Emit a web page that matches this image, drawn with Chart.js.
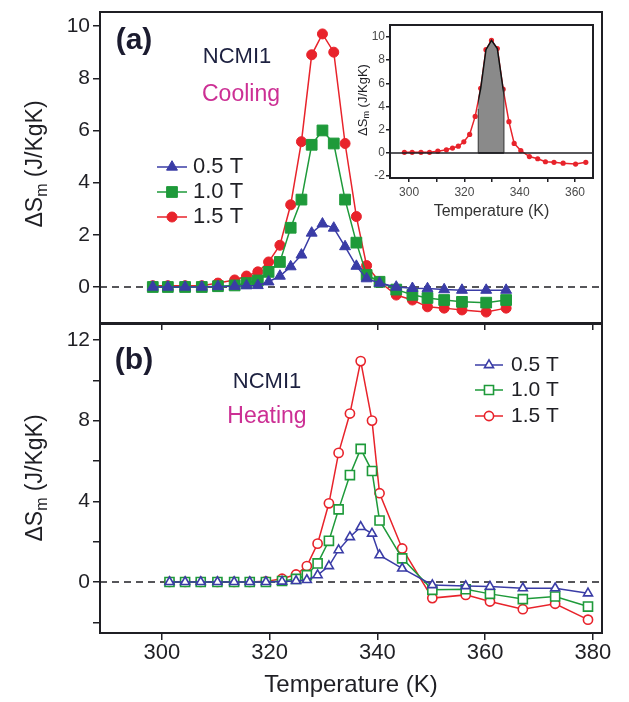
<!DOCTYPE html>
<html lang="en">
<head>
  <meta charset="UTF-8">
  <title>NCMI1 - ΔSm cooling / heating</title>
  <script src="https://cdn.jsdelivr.net/npm/chart.js"></script>
  <style>
    html, body { margin: 0; padding: 0; background: #fff; }
    #wrap { position: relative; width: 629px; height: 702px; overflow: hidden; }
    canvas { position: absolute; }
    #chartA { left: 0; top: 0; }
    #chartB { left: 0; top: 316px; }
    #inset { left: 350px; top: 15px; }
  </style>
</head>
<body>
<div id="wrap">
  <canvas id="chartA" width="629" height="332"></canvas>
  <canvas id="chartB" width="629" height="386"></canvas>
  <canvas id="inset" width="255" height="210"></canvas>
</div>
<script>
  // --- data ---
  const fieldLabels = ['0.5 T', '1.0 T', '1.5 T'];

  // (a) cooling
  const coolT = [298.3, 301.1, 304.3, 307.4, 310.4, 313.5, 315.7, 317.8, 319.8, 321.9, 323.9, 325.9, 327.8,
                 329.8, 331.9, 334.0, 336.1, 338.0, 340.4, 343.5, 346.5, 349.3, 352.4, 355.7, 360.2, 363.9];
  const cool05 = [0, 0, 0, 0, 0.02, 0.03, 0.05, 0.06, 0.2, 0.42, 0.78, 1.23, 2.07,
                  2.42, 2.26, 1.55, 0.8, 0.32, 0.15, 0.0, -0.05, -0.06, -0.1, -0.12, -0.12, -0.12];
  const cool10 = [0, 0, 0, 0, 0.03, 0.06, 0.15, 0.25, 0.58, 0.96, 2.27, 3.35, 5.45,
                  6.0, 5.5, 3.35, 1.7, 0.46, 0.2, -0.1, -0.3, -0.42, -0.5, -0.57, -0.6, -0.5];
  const cool15 = [0.05, 0.05, 0.05, 0.05, 0.15, 0.27, 0.42, 0.58, 0.96, 1.6, 3.15, 5.57, 8.9,
                  9.7, 9.0, 5.5, 2.7, 0.82, 0.2, -0.31, -0.5, -0.76, -0.81, -0.88, -0.96, -0.81];

  // (b) heating
  const heatT = [301.4, 304.3, 307.2, 310.3, 313.4, 316.3, 319.3, 322.3, 324.9, 326.9, 328.9, 331.0,
                 332.8, 334.9, 336.9, 339.0, 340.4, 344.6, 350.2, 356.4, 360.9, 367.0, 373.0, 379.1];
  const heat05 = [0, 0, 0, 0, 0, 0, 0, 0.02, 0.05, 0.1, 0.34, 0.79,
                  1.58, 2.23, 2.73, 2.4, 1.33, 0.67, -0.15, -0.2, -0.23, -0.31, -0.31, -0.56];
  const heat10 = [0, 0, 0, 0, 0, 0, 0, 0.05, 0.15, 0.34, 0.92, 2.04,
                  3.6, 5.3, 6.6, 5.5, 3.05, 1.17, -0.39, -0.36, -0.59, -0.85, -0.72, -1.22];
  const heat15 = [0, 0, 0, 0, 0, 0, 0.03, 0.16, 0.37, 0.79, 1.9, 3.9,
                  6.4, 8.35, 10.95, 8.0, 4.4, 1.66, -0.8, -0.64, -0.97, -1.35, -1.08, -1.87];

  // ticks
  const xTicks = [300, 320, 340, 360, 380];
  const yTicksA = [0, 2, 4, 6, 8, 10];
  const yTicksB = [-2, 0, 2, 4, 6, 8, 10, 12];
  const yLabelsB = [0, 4, 8, 12];
  const insetXTicks = [300, 310, 320, 330, 340, 350, 360];
  const insetXLabels = [300, 320, 340, 360];
  const insetYTicks = [-2, 0, 2, 4, 6, 8, 10];
  const shadeFrom = 325.0, shadeTo = 334.3;

  // --- styling ---
  const family = '"Liberation Sans", Arial, Helvetica, sans-serif';
  const ink = '#1f1f24';
  const blue = '#3a3ca6', green = '#1e9a3a', red = '#e8232b';
  Chart.defaults.font.family = family;
  Chart.defaults.color = ink;
  Chart.defaults.animation = false;

  const series = (xs, ys) => xs.map((x, i) => ({ x: x, y: ys[i] }));
  const setTicks = list => s => { s.ticks = list.map(v => ({ value: v })); };

  function line(label, data, color, style, radius, open) {
    return {
      label: label, data: data, showLine: true,
      borderColor: color, backgroundColor: color, borderWidth: 1.5,
      pointStyle: style, pointRadius: radius, pointHoverRadius: radius,
      pointBackgroundColor: open ? '#fff' : color, pointBorderColor: color,
      pointBorderWidth: open ? 1.6 : 1
    };
  }

  function drawYTitle(ctx, t) {
    const main = t.size + 'px ' + family;
    const sub = Math.round(t.size * 0.68) + 'px ' + family;
    ctx.save();
    ctx.translate(t.x, t.y);
    ctx.rotate(-Math.PI / 2);
    ctx.fillStyle = ink;
    ctx.textBaseline = 'middle';
    ctx.textAlign = 'left';
    ctx.font = main;
    const w1 = ctx.measureText('ΔS').width, w3 = ctx.measureText(' (J/KgK)').width;
    ctx.font = sub;
    const w2 = ctx.measureText('m').width;
    let x = -(w1 + w2 + w3) / 2;
    ctx.font = main; ctx.fillText('ΔS', x, 0); x += w1;
    ctx.font = sub; ctx.fillText('m', x, t.size * 0.3); x += w2;
    ctx.font = main; ctx.fillText(' (J/KgK)', x, 0);
    ctx.restore();
  }

  function drawLegend(chart, lg) {
    const ctx = chart.ctx;
    chart.data.datasets.forEach((ds, i) => {
      const y = lg.ys[i];
      ctx.save();
      ctx.strokeStyle = ds.borderColor;
      ctx.lineWidth = ds.borderWidth;
      ctx.beginPath(); ctx.moveTo(lg.x1, y); ctx.lineTo(lg.x2, y); ctx.stroke();
      ctx.fillStyle = ds.pointBackgroundColor;
      ctx.strokeStyle = ds.pointBorderColor;
      ctx.lineWidth = ds.pointBorderWidth;
      Chart.helpers.drawPoint(ctx, { pointStyle: ds.pointStyle, radius: ds.pointRadius,
        borderWidth: ds.pointBorderWidth, rotation: 0 }, (lg.x1 + lg.x2) / 2, y);
      ctx.fillStyle = ink;
      ctx.font = lg.size + 'px ' + family;
      ctx.textAlign = 'left';
      ctx.textBaseline = 'middle';
      ctx.fillText(ds.label, lg.tx, y);
      ctx.restore();
    });
  }

  // frame, zero line, notes, legend, y title
  const decor = {
    id: 'decor',
    beforeDatasetsDraw(chart, args, o) {
      if (o.zeroOnTop) return;
      zeroLine(chart, o);
    },
    afterDatasetsDraw(chart, args, o) {
      if (o.zeroOnTop) zeroLine(chart, o);
    },
    afterDraw(chart, args, o) {
      const { ctx, chartArea: a } = chart;
      ctx.save();
      ctx.strokeStyle = ink;
      ctx.lineWidth = o.frameWidth || 2;
      ctx.strokeRect(a.left, a.top, a.right - a.left, a.bottom - a.top);
      ctx.restore();
      (o.texts || []).forEach(t => {
        ctx.save();
        ctx.font = t.font; ctx.fillStyle = t.color;
        ctx.textAlign = 'center'; ctx.textBaseline = 'middle';
        ctx.fillText(t.text, t.x, t.y);
        ctx.restore();
      });
      if (o.yTitle) drawYTitle(ctx, o.yTitle);
      if (o.legend) drawLegend(chart, o.legend);
    }
  };
  function zeroLine(chart, o) {
    const { ctx, chartArea: a, scales: { y } } = chart;
    const y0 = y.getPixelForValue(0);
    ctx.save();
    ctx.strokeStyle = ink;
    ctx.lineWidth = 1.5;
    ctx.setLineDash(o.dash || []);
    ctx.beginPath(); ctx.moveTo(a.left, y0); ctx.lineTo(a.right, y0); ctx.stroke();
    ctx.restore();
  }

  // fixed box sizes, no extra room for the edge labels
  const fixWidth = w => s => { s.width = w; s.paddingTop = 0; s.paddingBottom = 0; };
  const fixHeight = h => s => { s.height = h; s.paddingLeft = 0; s.paddingRight = 0; };

  function yAxis(min, max, ticks, labels, size, width) {
    return {
      min: min, max: max,
      afterBuildTicks: setTicks(ticks),
      ticks: { font: { size: size }, color: ink, padding: 3,
               callback: v => (labels ? (labels.includes(v) ? v : '') : v) },
      grid: { drawOnChartArea: false, tickLength: 7, color: ink, lineWidth: 1.5 },
      border: { display: true, color: ink, width: 2 },
      afterFit: fixWidth(width)
    };
  }

  const text = (t, x, y, size, color, bold) =>
    ({ text: t, x: x, y: y, color: color, font: (bold ? 'bold ' : '') + size + 'px ' + family });

  // (a) cooling
  new Chart(document.getElementById('chartA'), {
    type: 'scatter',
    data: { datasets: [
      line(fieldLabels[0], series(coolT, cool05), blue, 'triangle', 6.3, false),
      line(fieldLabels[1], series(coolT, cool10), green, 'rect', 7.6, false),
      line(fieldLabels[2], series(coolT, cool15), red, 'circle', 5, false)
    ] },
    options: {
      responsive: false, events: [],
      layout: { padding: { top: 12, right: 27, left: 0, bottom: 0 } },
      scales: {
        x: {
          type: 'linear', min: 288.5, max: 381.7,
          afterBuildTicks: setTicks(xTicks),
          ticks: { display: false },
          grid: { drawOnChartArea: false, tickLength: 7, color: ink, lineWidth: 1.5 },
          border: { display: true, color: ink, width: 2 },
          afterFit: fixHeight(9)
        },
        y: yAxis(-1.38, 10.54, yTicksA, null, 21, 100)
      },
      plugins: {
        legend: { display: false }, tooltip: { enabled: false },
        decor: {
          dash: [7, 5],
          texts: [
            text('(a)', 134, 41, 30, '#1b1b2f', true),
            text('NCMI1', 237, 57, 22, '#1d2140'),
            text('Cooling', 241, 95, 23, '#cc2f94')
          ],
          yTitle: { x: 36, y: 164, size: 23 },
          legend: { x1: 157, x2: 187, tx: 193, ys: [167, 192, 217], size: 22 }
        }
      }
    },
    plugins: [decor]
  });

  // (b) heating  (canvas starts 316px down)
  new Chart(document.getElementById('chartB'), {
    type: 'scatter',
    data: { datasets: [
      line(fieldLabels[0], series(heatT, heat05), blue, 'triangle', 5.2, true),
      line(fieldLabels[1], series(heatT, heat10), green, 'rect', 6.4, true),
      line(fieldLabels[2], series(heatT, heat15), red, 'circle', 4.6, true)
    ] },
    options: {
      responsive: false, events: [],
      layout: { padding: { top: 8, right: 27, left: 0, bottom: 0 } },
      scales: {
        x: {
          type: 'linear', min: 288.5, max: 381.7,
          afterBuildTicks: setTicks(xTicks),
          ticks: { font: { size: 22 }, color: ink, padding: 0 },
          grid: { drawOnChartArea: false, tickLength: 7, color: ink, lineWidth: 1.5 },
          border: { display: true, color: ink, width: 2 },
          title: { display: true, text: 'Temperature (K)', color: ink,
                   font: { size: 24 }, padding: { top: 0, bottom: 2 } },
          afterFit: fixHeight(69)
        },
        y: yAxis(-2.53, 12.79, yTicksB, yLabelsB, 21, 100)
      },
      plugins: {
        legend: { display: false }, tooltip: { enabled: false },
        decor: {
          dash: [7, 5],
          texts: [
            text('(b)', 134, 45, 30, '#1b1b2f', true),
            text('NCMI1', 267, 66, 22, '#1d2140'),
            text('Heating', 267, 101, 23, '#cc2f94')
          ],
          yTitle: { x: 36, y: 162, size: 23 },
          legend: { x1: 475, x2: 503, tx: 511, ys: [49, 74, 100], size: 21 }
        }
      }
    },
    plugins: [decor]
  });

  // inset: 1.5 T cooling with the shaded peak area
  const shade = {
    id: 'shade',
    afterDatasetsDraw(chart) {
      const { ctx, chartArea: a, scales: { x, y } } = chart;
      const pts = chart.getDatasetMeta(0).data;
      const x0 = x.getPixelForValue(shadeFrom), x1 = x.getPixelForValue(shadeTo);
      const y0 = y.getPixelForValue(0);
      ctx.save();
      ctx.beginPath(); ctx.rect(x0, a.top, x1 - x0, y0 - a.top + 1); ctx.clip();
      ctx.beginPath();
      ctx.moveTo(pts[0].x, y0);
      pts.forEach(p => ctx.lineTo(p.x, p.y));
      ctx.lineTo(pts[pts.length - 1].x, y0);
      ctx.closePath();
      ctx.fillStyle = '#8a8a8a';
      ctx.fill();
      ctx.strokeStyle = '#111';
      ctx.lineWidth = 1.5;
      ctx.stroke();
      ctx.restore();
      ctx.save();
      ctx.strokeStyle = '#333'; ctx.lineWidth = 1;
      [x0, x1].forEach(px => { ctx.beginPath(); ctx.moveTo(px, y0); ctx.lineTo(px, y.getPixelForValue(px === x0 ? 3.8 : 5.6)); ctx.stroke(); });
      ctx.restore();
    }
  };

  new Chart(document.getElementById('inset'), {
    type: 'scatter',
    data: { datasets: [
      { label: fieldLabels[2], data: series(coolT, cool15), showLine: true,
        borderColor: red, borderWidth: 1.5, pointStyle: 'circle', pointRadius: 2.6,
        pointBackgroundColor: red, pointBorderColor: red, pointBorderWidth: 0 }
    ] },
    options: {
      responsive: false, events: [],
      layout: { padding: { top: 10, right: 12, left: 0, bottom: 0 } },
      scales: {
        x: {
          type: 'linear', min: 293.1, max: 366.5,
          afterBuildTicks: setTicks(insetXTicks),
          ticks: { font: { size: 12 }, color: '#4a4a4a', padding: 3,
                   callback: v => (insetXLabels.includes(v) ? v : '') },
          grid: { drawOnChartArea: false, tickLength: 4, color: ink, lineWidth: 1.5 },
          border: { display: true, color: ink, width: 2 },
          title: { display: true, text: 'Temperature (K)', color: '#333',
                   font: { size: 16 }, padding: { top: 0, bottom: 4 } },
          afterFit: fixHeight(47)
        },
        y: {
          min: -2.16, max: 11.03,
          afterBuildTicks: setTicks(insetYTicks),
          ticks: { font: { size: 12 }, color: '#4a4a4a', padding: 1 },
          grid: { drawOnChartArea: false, tickLength: 4, color: ink, lineWidth: 1.5 },
          border: { display: true, color: ink, width: 2 },
          afterFit: fixWidth(40)
        }
      },
      plugins: {
        legend: { display: false }, tooltip: { enabled: false },
        decor: { zeroOnTop: true, yTitle: { x: 13, y: 85, size: 13 } }
      }
    },
    plugins: [shade, decor]
  });
</script>
</body>
</html>
